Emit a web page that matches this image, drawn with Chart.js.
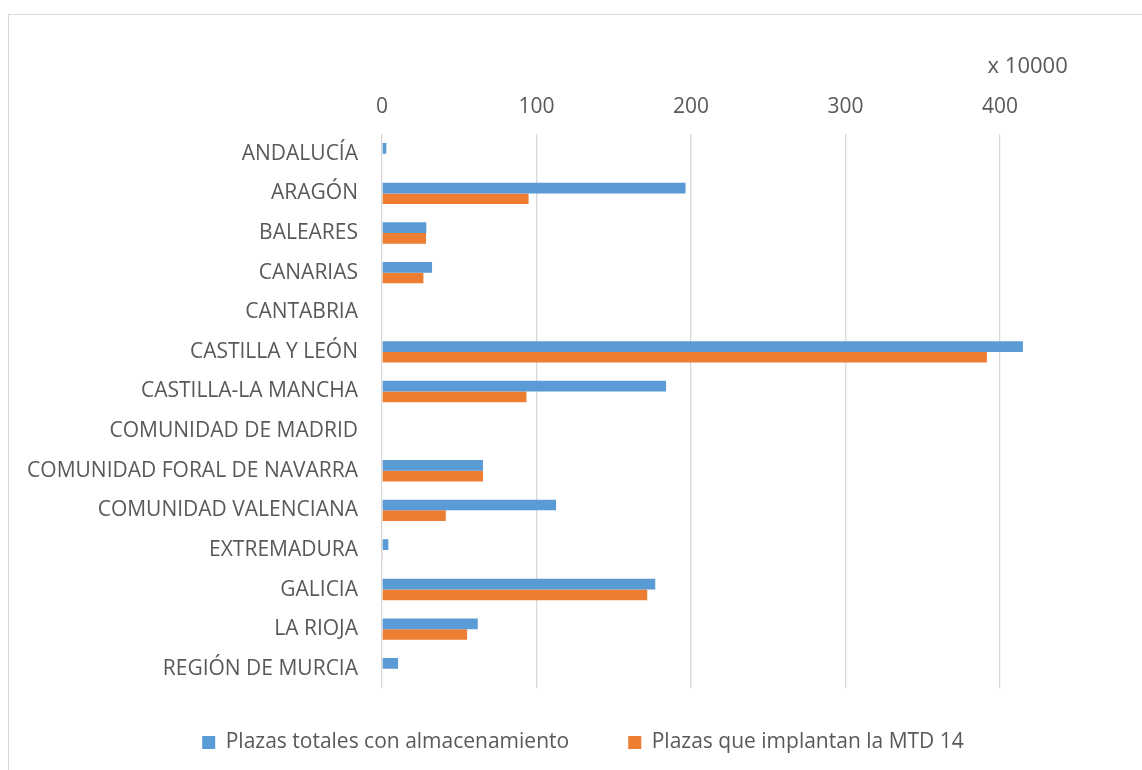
<!DOCTYPE html>
<html>
<head>
<meta charset="utf-8">
<script src="https://cdn.jsdelivr.net/npm/chart.js@4/dist/chart.umd.min.js"></script>
<style>
  html, body { margin: 0; padding: 0; background: #ffffff; }
  .frame { position: absolute; left: 8px; top: 14px; width: 1160px; height: 780px; border: 1px solid #d9d9d9; }
  .chart-size { position: absolute; left: 0; top: 0; width: 1142px; height: 770px; }
</style>
</head>
<body>
<div class="frame"></div>
<div class="chart-size"><canvas id="myChart"></canvas></div>
<script>
// regiones (eje de categorías)
const regiones = [
  "ANDALUCÍA",
  "ARAGÓN",
  "BALEARES",
  "CANARIAS",
  "CANTABRIA",
  "CASTILLA Y LEÓN",
  "CASTILLA-LA MANCHA",
  "COMUNIDAD DE MADRID",
  "COMUNIDAD FORAL DE NAVARRA",
  "COMUNIDAD VALENCIANA",
  "EXTREMADURA",
  "GALICIA",
  "LA RIOJA",
  "REGIÓN DE MURCIA"
];

// valores en unidades de 10000 plazas
const plazasTotales = [2.8, 196.5, 28.7, 32.4, 0, 414.9, 183.9, 0, 65.4, 112.7, 4.1, 176.9, 62, 10.4];
const plazasMTD14 = [0, 94.9, 28.5, 26.8, 0, 391.6, 93.5, 0, 65.4, 41.3, 0.5, 171.7, 55.1, 0];

const serieNombres = ["Plazas totales con almacenamiento", "Plazas que implantan la MTD 14"];
const ejeTicks = [0, 100, 200, 300, 400];
const ejeMax = 492;
const ejeTitulo = "x 10000";

const fontFamily = "'Open Sans', sans-serif";
const textColor = "#595959";
const nbsp = n => "\u00a0".repeat(n);

let ctx = document.getElementById("myChart").getContext("2d");
let chart = new Chart(ctx, {
  type: "bar",
  data: {
    labels: regiones,
    datasets: [
      {
        label: serieNombres[0],
        backgroundColor: "#5b9bd5",
        data: plazasTotales
      },
      {
        label: serieNombres[1],
        backgroundColor: "#ed7d31",
        data: plazasMTD14
      }
    ]
  },
  options: {
    indexAxis: "y",
    responsive: true,
    maintainAspectRatio: false,
    animation: false,
    categoryPercentage: 0.54,
    barPercentage: 1.0,
    layout: {
      padding: { top: 36, left: 24, right: 0, bottom: 7 }
    },
    scales: {
      x: {
        position: "top",
        min: 0,
        max: ejeMax,
        afterBuildTicks: scale => {
          scale.ticks = ejeTicks.map(v => ({ value: v }));
        },
        afterFit: scale => {
          scale.height = 98;
        },
        border: { display: false },
        grid: { color: "#d9d9d9", lineWidth: 1.3, drawTicks: false },
        ticks: {
          color: textColor,
          padding: 14,
          font: { family: fontFamily, size: 21 }
        },
        title: {
          display: true,
          text: ejeTitulo + nbsp(13),
          align: "end",
          color: textColor,
          padding: { top: 18, bottom: 0 },
          font: { family: fontFamily, size: 22 }
        }
      },
      y: {
        afterFit: scale => {
          scale.width = 382 - 24;
        },
        border: { display: false },
        grid: { display: false },
        ticks: {
          color: textColor,
          padding: 16,
          font: { family: fontFamily, size: 21 }
        }
      }
    },
    plugins: {
      tooltip: { enabled: false },
      legend: {
        position: "bottom",
        title: {
          display: true,
          text: "",
          padding: { top: 0, bottom: 19 }
        },
        labels: {
          color: textColor,
          boxWidth: 13,
          boxHeight: 13,
          padding: 10,
          font: { family: fontFamily, size: 21 },
          generateLabels: c => {
            const items = Chart.defaults.plugins.legend.labels.generateLabels(c);
            items[0].text = items[0].text + nbsp(9);
            return items;
          }
        }
      }
    }
  }
});
</script>
</body>
</html>
